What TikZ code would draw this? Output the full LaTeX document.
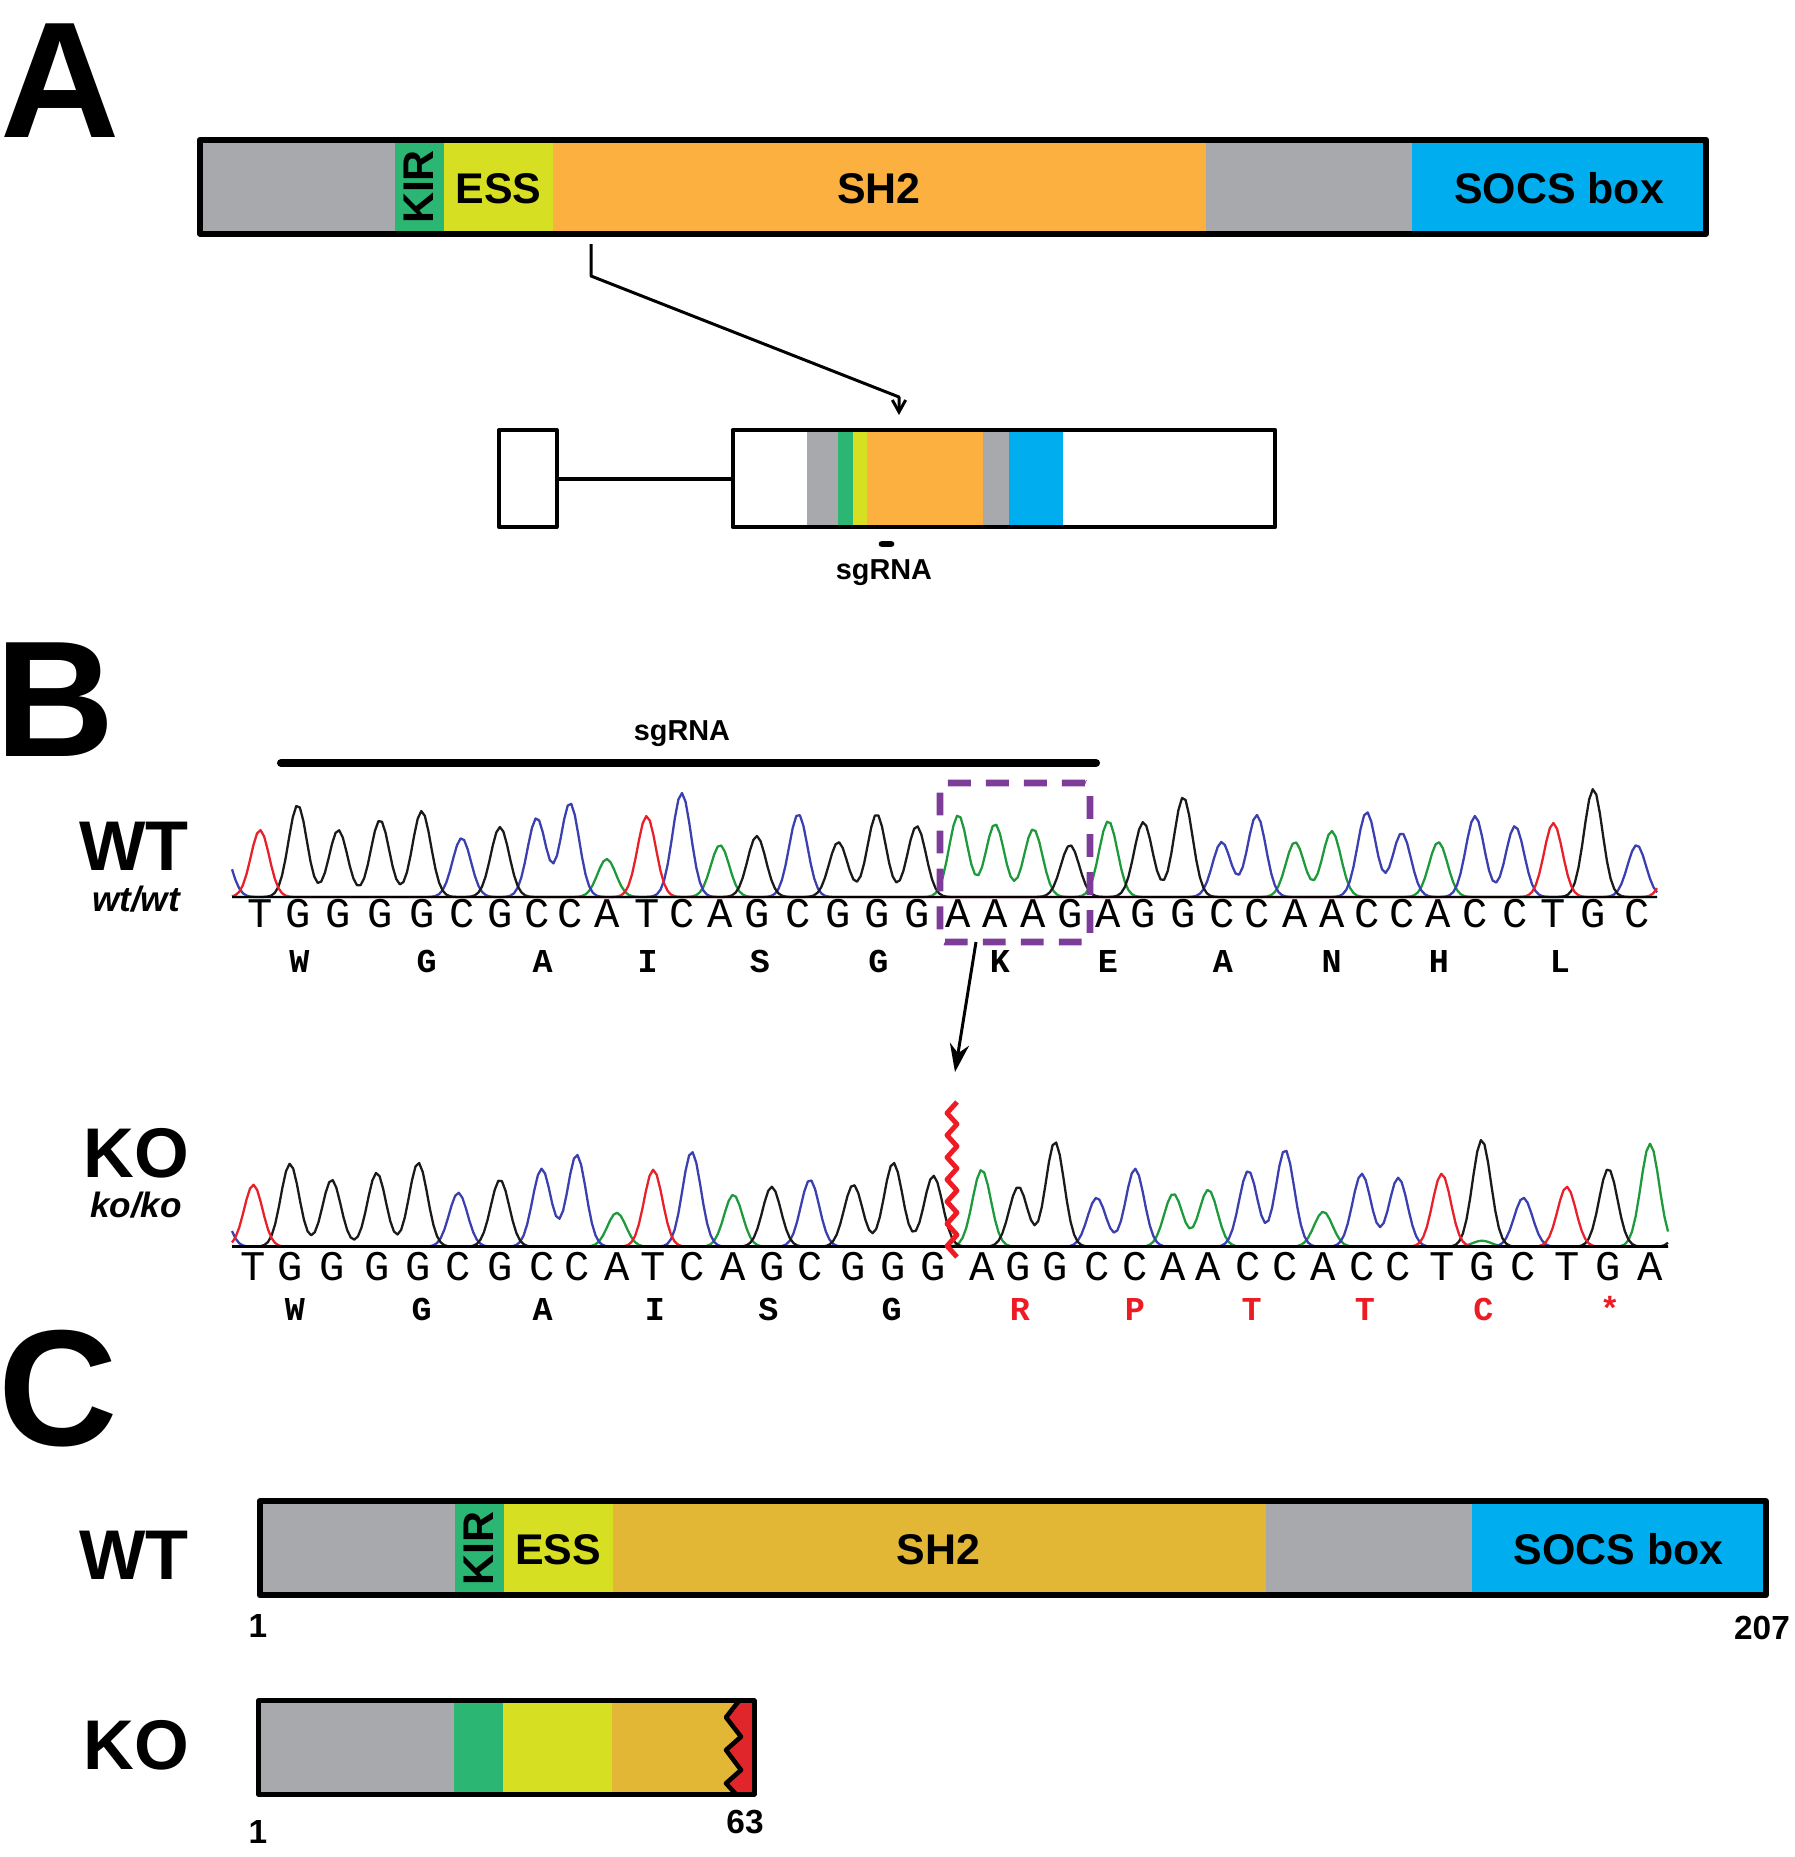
\documentclass[tikz,border=0pt]{standalone}
\usepackage{fontspec}
\setmainfont{Liberation Sans}
\newfontfamily\seqfont{Liberation Mono}
\usetikzlibrary{arrows.meta}

\definecolor{dgray}{HTML}{A7A9AC}
\definecolor{kgreen}{HTML}{2BB673}
\definecolor{eyellow}{HTML}{D7DF23}
\definecolor{sorange}{HTML}{FBB040}
\definecolor{sgold}{HTML}{E1B735}
\definecolor{sblue}{HTML}{00AEEF}
\definecolor{kred}{HTML}{E1262B}
\definecolor{boxpurple}{HTML}{7D3C98}
\definecolor{aared}{HTML}{ED1C24}
\definecolor{peakA}{HTML}{1E9A3C}
\definecolor{peakC}{HTML}{3B3FB0}
\definecolor{peakG}{HTML}{1A1A1A}
\definecolor{peakT}{HTML}{E8202A}

% one chromatogram peak: height #3 at #2, read at #1
\pgfmathdeclarefunction{pk}{3}{%
  \pgfmathparse{max(-4,min(4,(#1-#2)/13))}%
  \pgfmathparse{#3*exp(0-(\pgfmathresult)*(\pgfmathresult))}}

\let\X\relax
\newcommand\addpk[3]{\expandafter\xdef\csname tr#1\endcsname{\csname tr#1\endcsname+pk(\X,#2,#3)}}
\newcommand\cleartraces{\gdef\trA{0}\gdef\trC{0}\gdef\trG{0}\gdef\trT{0}}
\newcommand\drawtraces[2]{%
  \foreach \b in {A,C,G,T}
    \draw[trace, peak\b] plot[variable=\X, domain=#1:#2, samples=400] (\X,{0-(\csname tr\b\endcsname)});}

% protein bar, #1 name prefix, #2 SH2 colour
\newcommand\protbar[2]{%
  \foreach \lft/\rgt/\col in {200/395/dgray,395/444/kgreen,444/553/eyellow,553/1206/#2,1206/1412/dgray,1412/1706/sblue}
    \fill[\col] (\lft,139.7) rectangle (\rgt,233.7);
  \draw[barline] (200,139.7) rectangle (1706,233.7);
  \node[domtext, rotate=90] (#1kir) at (419,187) {KIR};
  \node[domtext, anchor=base] (#1ess) at (498.5,203) {ESS};
  \node[domtext, anchor=base] (#1sh) at (879,203) {SH2};
  \node[domtext, anchor=base] (#1socs) at (1559,203) {SOCS box};}

\begin{document}
\begin{tikzpicture}[x=0.01cm, y=-0.01cm, line join=round,
  panel/.style={font=\fontsize{47}{47}\selectfont\bfseries, inner sep=0, anchor=base west},
  domtext/.style={font=\fontsize{12.2}{14}\selectfont\bfseries, inner sep=0},
  smalltext/.style={font=\fontsize{8.2}{9}\selectfont\bfseries, inner sep=0, anchor=base},
  genotype/.style={font=\fontsize{20}{22}\selectfont\bfseries, inner sep=0, anchor=base},
  allele/.style={font=\fontsize{10}{12}\selectfont\bfseries\itshape, inner sep=0, anchor=base},
  posnum/.style={font=\fontsize{9.5}{11}\selectfont\bfseries, inner sep=0, anchor=base},
  baseltr/.style={font=\fontsize{12}{12}\selectfont\seqfont, inner sep=0, anchor=base},
  aaltr/.style={font=\fontsize{9.5}{11}\selectfont\seqfont\bfseries, inner sep=0, anchor=base},
  barline/.style={line width=1.7pt},
  exonbox/.style={draw, line width=1.14pt, inner sep=0},
  zoomline/.style={line width=0.85pt},
  trace/.style={line width=0.65pt},
  axisline/.style={line width=0.7pt},
  codonbox/.style={draw=boxpurple, line width=1.9pt, dash pattern=on 6.5pt off 4.3pt, rounded corners=1.5pt, inner sep=0},
  cutline/.style={aared, line width=1.4pt},
  sgbar/.style={line width=2.3pt, line cap=round}]
\useasboundingbox (0,0) rectangle (1795,1857);

% ---------- A ----------
\node[panel] (pa) at (0,137) {A};
\protbar{a}{sorange}

\foreach \lft/\rgt/\col in {807/838/dgray,838/853/kgreen,853/866.5/eyellow,866.5/983.3/sorange,983.3/1009/dgray,1009/1062.5/sblue}
  \fill[\col] (\lft,432) rectangle (\rgt,525);
\node[exonbox, minimum width=0.575cm, minimum height=0.97cm] (ex1) at (527.8,478.5) {};
\node[exonbox, minimum width=5.423cm, minimum height=0.97cm] (ex2) at (1003.9,478.5) {};
\draw[line width=1.14pt] (ex1.east) -- (ex2.west);

\coordinate (pick) at (591,244);
\coordinate (bend) at (591,276);
\coordinate (drop) at (899,397);
\coordinate (hit) at (899,415);
\draw[zoomline, -{Straight Barb[length=3.4pt,width=3.8pt]}] (pick) -- (bend) -- (drop) -- (hit);

\draw[line width=1.9pt, line cap=round] (882,544) -- (891,544);
\node[smalltext] (sga) at (884,579) {sgRNA};

% ---------- B ----------
\node[panel] (pb) at (-5,756) {B};
\draw[sgbar] (281,763) -- (1096,763);
\node[smalltext] (sgb) at (682,740) {sgRNA};

\node[genotype] (wtb) at (134,870) {WT};
\node[allele] (wtw) at (136,911) {wt/wt};
\node[genotype] (kob) at (136,1177) {KO};
\node[allele] (kok) at (136,1217) {ko/ko};

% wild type trace
\cleartraces
\addpk{C}{222}{50}
\addpk{T}{1675}{60}
\foreach \p/\b/\h [count=\i] in {260/T/67,297.7/G/92,338.3/G/67,380/G/77,421.7/G/86,461.7/C/59,500/G/70,536.7/C/79,570/C/94,606.7/A/38,646.7/T/81,681.7/C/104,720/A/52,756.7/G/61,798.3/C/83,838.3/G/55,876.7/G/83,916.7/G/71,958.3/A/82,995/A/73,1033.3/A/68,1070/G/52,1108.3/A/76,1143.3/G/75,1183.3/G/100,1221.7/C/55,1256.7/C/82,1295/A/55,1331.7/A/66,1366.7/C/85,1401.7/C/64,1438.3/A/55,1475/C/81,1515/C/71,1553.3/T/74,1593.3/G/108,1636.7/C/52}{
  \addpk{\b}{\p}{\h}
  \node[baseltr] (wb\i) at (\p,927) {\b};
}
\begin{scope}[shift={(0,897)}]
\drawtraces{232}{1657}
\end{scope}
\draw[axisline] (232,897) -- (1657,897);
\foreach \p/\res [count=\k] in {299.3/W,426.7/G,542.7/A,647.7/I,760/S,878.3/G,1000/K,1108/E,1223/A,1331.7/N,1439/H,1560/L}
  \node[aaltr] (wa\k) at (\p,972) {\res};
\node[codonbox, minimum width=1.5cm, minimum height=1.59cm] (codon) at (1015,862.5) {};

% knockout trace
\cleartraces
\addpk{C}{218}{50}
\addpk{A}{1482}{6}
\addpk{G}{1690}{70}
\foreach \p/\b/\h [count=\i] in {253.3/T/62,290/G/83,331.7/G/67,376.7/G/74,418.3/G/84,458.3/C/54,500/G/67,541.7/C/78,576.7/C/92,616.7/A/34,653.3/T/77,691.7/C/95,733.3/A/52,771.7/G/60,810/C/67,853.3/G/62,893.3/G/84,933.3/G/71,981.7/A/77,1018.3/G/60,1055/G/105,1096.7/C/49,1135/C/78,1173.3/A/53,1208.3/A/57,1248.3/C/76,1285/C/97,1323.3/A/35,1361.7/C/73,1398.3/C/69,1441.7/T/73,1481.7/G/107,1523.3/C/49,1566.7/T/60,1608.3/G/78,1650/A/103}{
  \addpk{\b}{\p}{\h}
  \node[baseltr] (kb\i) at (\p,1280) {\b};
}
\begin{scope}[shift={(0,1246.7)}]
\drawtraces{232}{1668}
\end{scope}
\draw[axisline] (232,1246.7) -- (1668,1246.7);
\foreach \p/\res [count=\k] in {295/W,421.7/G,542.7/A,655/I,768.3/S,891.7/G}
  \node[aaltr] (ka\k) at (\p,1320) {\res};
\foreach \p/\res [count=\k] in {1020/R,1135/P,1251.7/T,1365/T,1483.3/C,1610/*}
  \node[aaltr, aared] (kr\k) at (\p,1320) {\res};
\draw[cutline] (957,1102) \foreach \k in {1,...,14}{ -- ({ifthenelse(isodd(\k),947,957)},{1102+11.07*\k}) };

\coordinate (cutfrom) at (976,942);
\coordinate (cutto) at (955,1072);
\draw[zoomline, -{Stealth[length=8pt,width=5.5pt]}] (cutfrom) -- (cutto);

% ---------- C ----------
\node[panel] (pc) at (-2,1445) {C};
\node[genotype] (wtc) at (134,1579) {WT};
\node[genotype] (koc) at (136,1769) {KO};

\begin{scope}[shift={(59.7,1361.6)}]
\protbar{c}{sgold}
\end{scope}
\node[posnum] (wstart) at (258,1637) {1};
\node[posnum] (wend) at (1762,1639) {207};

\foreach \lft/\rgt/\col in {258.5/453.7/dgray,453.7/503/kgreen,503/612/eyellow,612/754.2/kred}
  \fill[\col] (\lft,1700.8) rectangle (\rgt,1794.2);
\fill[sgold] (612,1700.8) -- (739,1700.8) -- (726,1717.3) -- (741,1736.7) -- (726,1750) -- (741,1770) -- (726,1783.3) -- (736,1794.2) -- (612,1794.2) -- cycle;
\draw[line width=1.3pt] (739,1700.8) -- (726,1717.3) -- (741,1736.7) -- (726,1750) -- (741,1770) -- (726,1783.3) -- (736,1794.2);
\draw[line width=1.42pt] (258.5,1700.8) rectangle (754.2,1794.2);
\node[posnum] (kstart) at (258,1843) {1};
\node[posnum] (kend) at (745,1833) {63};
\end{tikzpicture}
\end{document}
